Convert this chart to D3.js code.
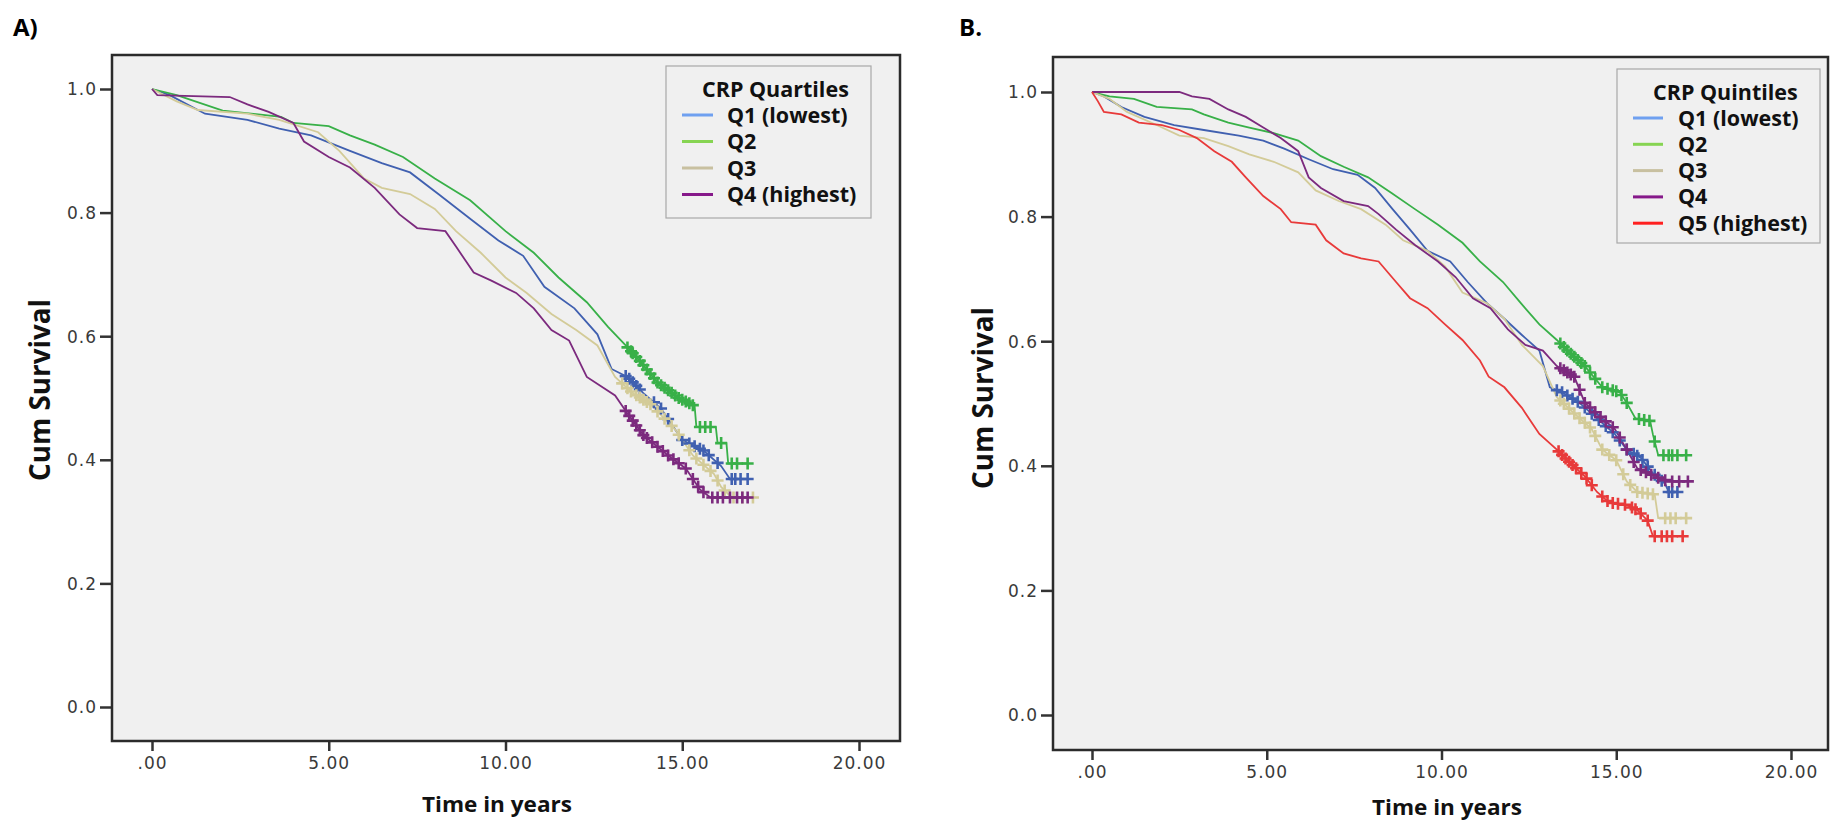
<!DOCTYPE html>
<html><head><meta charset="utf-8">
<script src="https://cdn.jsdelivr.net/npm/d3@7/dist/d3.min.js"></script>
<style>body{margin:0;background:#fff;} svg{display:block;}</style>
</head><body><svg id="chart" width="1830" height="821"></svg>
<script>
// ---------------- DATA ----------------
const xTickValues = [0, 5, 10, 15, 20];
const xTickLabels = [".00", "5.00", "10.00", "15.00", "20.00"];
const yTickValues = [0, 0.2, 0.4, 0.6, 0.8, 1.0];
const yTickLabels = ["0.0", "0.2", "0.4", "0.6", "0.8", "1.0"];

const quartileLabels = ["Q1 (lowest)", "Q2", "Q3", "Q4 (highest)"];
const quintileLabels = ["Q1 (lowest)", "Q2", "Q3", "Q4", "Q5 (highest)"];

// Panel A – CRP quartiles (time in years, cumulative survival)
const A_Q1_time = [0, 0.5, 1.5, 2.7, 3.6, 4.5, 5.6, 6.5, 7.3, 8.1, 9.0, 9.8, 10.5, 11.1, 11.95, 12.6, 13.0, 13.45, 13.9, 14.4, 15.0, 15.6, 16.1, 16.35, 16.85];
const A_Q1_surv = [1, .99, .96, .95, .936, .925, .90, .88, .865, .83, .79, .755, .73, .68, .645, .603, .547, .534, .508, .483, .432, .415, .39, .369, .369];
const A_Q1_cens = [13.4, 13.5, 13.6, 13.7, 13.8, 14.2, 14.4, 14.6, 15.0, 15.2, 15.35, 15.5, 15.6, 15.75, 16.0, 16.4, 16.5, 16.65, 16.85];

const A_Q2_time = [0, 0.7, 2.0, 3.65, 4.0, 5.0, 5.6, 6.3, 7.1, 8.0, 9.0, 10.0, 10.8, 11.5, 12.3, 12.9, 13.4, 13.8, 14.3, 14.9, 15.35, 15.4, 15.95, 16.0, 16.25, 16.3, 16.85];
const A_Q2_surv = [1, .99, .965, .955, .945, .94, .925, .91, .89, .855, .82, .77, .735, .695, .655, .615, .585, .56, .525, .50, .487, .453, .453, .427, .427, .394, .394];
const A_Q2_cens = [13.45, 13.55, 13.6, 13.7, 13.8, 13.9, 14.0, 14.1, 14.2, 14.3, 14.4, 14.5, 14.6, 14.7, 14.8, 14.9, 15.0, 15.1, 15.2, 15.3, 15.5, 15.65, 15.8, 16.1, 16.4, 16.55, 16.85];

const A_Q3_time = [0, 0.7, 1.3, 2.7, 3.6, 4.7, 5.3, 6.0, 6.5, 7.3, 8.0, 8.6, 9.3, 10.0, 10.6, 11.3, 12.0, 12.6, 13.1, 13.6, 14.1, 14.8, 15.3, 15.9, 16.1, 16.4, 17.0];
const A_Q3_surv = [1, .98, .966, .96, .95, .93, .90, .855, .84, .83, .806, .77, .735, .695, .67, .636, .61, .585, .534, .508, .49, .449, .407, .377, .356, .339, .339];
const A_Q3_cens = [13.3, 13.45, 13.55, 13.7, 13.8, 13.9, 14.0, 14.1, 14.3, 14.5, 14.7, 14.9, 15.2, 15.4, 15.6, 15.8, 16.0, 16.2, 16.45, 16.7, 17.0];

const A_Q4_time = [0, 0.15, 2.2, 2.7, 3.3, 4.0, 4.3, 5.0, 5.6, 6.3, 7.0, 7.5, 8.3, 8.6, 9.1, 9.6, 10.3, 10.8, 11.3, 11.8, 12.3, 13.1, 13.45, 13.9, 14.6, 15.1, 15.5, 15.8, 16.85];
const A_Q4_surv = [1, .99, .987, .975, .963, .945, .915, .89, .873, .84, .797, .775, .77, .745, .703, .69, .67, .645, .61, .593, .534, .504, .475, .44, .407, .386, .352, .339, .339];
const A_Q4_cens = [13.4, 13.5, 13.6, 13.7, 13.8, 13.9, 14.0, 14.15, 14.3, 14.45, 14.6, 14.75, 14.9, 15.1, 15.3, 15.45, 15.6, 15.85, 16.0, 16.15, 16.35, 16.55, 16.7, 16.85];

// Panel B – CRP quintiles
const B_Q1_time = [0, 0.34, 0.84, 1.5, 2.35, 3.2, 4.2, 4.9, 5.5, 6.2, 6.9, 7.6, 8.1, 8.6, 9.1, 9.6, 10.25, 10.75, 11.3, 11.8, 12.3, 12.8, 13.1, 13.45, 13.95, 14.45, 14.96, 15.3, 15.7, 16.05, 16.4, 16.5, 16.8];
const B_Q1_surv = [1, .993, .976, .96, .947, .939, .93, .922, .909, .892, .876, .867, .846, .812, .779, .745, .728, .695, .661, .636, .61, .585, .526, .518, .501, .476, .451, .426, .413, .388, .371, .358, .358];
const B_Q1_cens = [13.3, 13.45, 13.6, 13.75, 13.9, 14.1, 14.3, 14.5, 14.7, 14.9, 15.1, 15.3, 15.5, 15.6, 15.75, 15.9, 16.1, 16.3, 16.5, 16.6, 16.75];

const B_Q2_time = [0, 0.5, 1.2, 1.85, 2.86, 3.2, 3.9, 4.5, 5.2, 5.9, 6.55, 7.2, 7.9, 8.57, 9.24, 9.9, 10.6, 11.1, 11.76, 12.27, 12.8, 13.3, 13.6, 14.1, 14.6, 15.1, 15.3, 15.55, 15.97, 16.05, 16.2, 17.0];
const B_Q2_surv = [1, .993, .989, .976, .972, .964, .951, .943, .934, .922, .897, .88, .863, .838, .812, .787, .758, .728, .695, .661, .627, .602, .585, .56, .526, .518, .501, .476, .472, .45, .417, .417];
const B_Q2_cens = [13.4, 13.5, 13.6, 13.7, 13.8, 13.9, 14.0, 14.1, 14.25, 14.4, 14.6, 14.75, 14.9, 15.0, 15.15, 15.3, 15.65, 15.8, 15.95, 16.1, 16.35, 16.5, 16.6, 16.75, 17.0];

const B_Q3_time = [0, 0.5, 1.0, 1.85, 2.5, 3.2, 3.9, 4.5, 5.2, 5.9, 6.4, 7.06, 7.7, 8.4, 8.9, 9.6, 10.1, 10.6, 11.3, 11.8, 12.3, 12.9, 13.3, 13.8, 14.3, 14.6, 15.0, 15.3, 15.6, 16.1, 16.2, 17.0];
const B_Q3_surv = [1, .989, .968, .947, .93, .926, .913, .90, .888, .871, .842, .825, .812, .787, .762, .745, .72, .678, .661, .636, .594, .56, .51, .484, .459, .426, .409, .375, .358, .354, .316, .316];
const B_Q3_cens = [13.4, 13.5, 13.65, 13.8, 13.95, 14.1, 14.25, 14.4, 14.6, 14.8, 15.0, 15.2, 15.4, 15.6, 15.75, 15.9, 16.05, 16.4, 16.55, 16.7, 17.0];

const B_Q4_time = [0, 2.5, 2.86, 3.36, 3.9, 4.4, 4.9, 5.4, 5.9, 6.2, 6.55, 7.2, 7.9, 8.2, 8.7, 9.25, 9.9, 10.4, 10.9, 11.4, 11.9, 12.4, 12.9, 13.3, 13.8, 14.1, 14.6, 14.96, 15.3, 15.6, 16.1, 16.5, 17.05];
const B_Q4_surv = [1, 1, .993, .989, .972, .96, .943, .926, .905, .863, .846, .825, .817, .804, .779, .754, .728, .703, .669, .653, .619, .594, .585, .56, .543, .501, .476, .459, .426, .396, .383, .375, .375];
const B_Q4_cens = [13.4, 13.5, 13.6, 13.7, 13.8, 13.95, 14.1, 14.25, 14.4, 14.55, 14.7, 14.9, 15.1, 15.3, 15.5, 15.7, 15.85, 16.0, 16.2, 16.4, 16.6, 16.8, 17.05];

const B_Q5_time = [0, 0.17, 0.34, 0.84, 1.34, 2.0, 2.5, 3.0, 3.5, 4.0, 4.4, 4.9, 5.4, 5.7, 6.4, 6.7, 7.2, 7.7, 8.2, 8.7, 9.1, 9.6, 10.1, 10.6, 11.1, 11.35, 11.8, 12.3, 12.8, 13.3, 13.6, 14.1, 14.45, 14.8, 15.3, 15.6, 15.9, 16.05, 16.9];
const B_Q5_surv = [1, .985, .968, .964, .951, .947, .939, .926, .905, .888, .863, .833, .812, .791, .787, .762, .741, .733, .728, .695, .669, .653, .627, .602, .569, .543, .526, .493, .451, .426, .409, .383, .358, .341, .337, .329, .312, .287, .287];
const B_Q5_cens = [13.35, 13.45, 13.55, 13.65, 13.75, 13.85, 14.0, 14.15, 14.3, 14.6, 14.75, 14.9, 15.05, 15.25, 15.45, 15.55, 15.7, 15.9, 16.1, 16.3, 16.45, 16.6, 16.9];

// ---------------- STYLE ----------------
const lineColors = ["#4060b0", "#38b048", "#d3cb98", "#7c2a7e", "#e83a3a"];
const legendColors = ["#6fa0f0", "#86d452", "#c8c0a0", "#86198a", "#ff2020"];

const svg = d3.select("#chart");
const tickFont = "'DejaVu Sans', Verdana, sans-serif";
const boldFont = "'Open Sans', 'Noto Sans', sans-serif";

function buildSeries(times, survs, cens) {
  return { pts: times.map((t, i) => ({ t: t, s: survs[i] })), cens: cens };
}

function survAt(pts, t) {
  const i = d3.bisector(d => d.t).right(pts, t);
  if (i <= 0) return pts[0].s;
  if (i >= pts.length) return pts[pts.length - 1].s;
  const a = pts[i - 1], b = pts[i];
  return a.s + (b.s - a.s) * (t - a.t) / (b.t - a.t);
}

function drawPanel(cfg) {
  const g = svg.append("g");
  const f = cfg.frame;
  const x = d3.scaleLinear().domain([0, 20]).range(cfg.xRange);
  const y = d3.scaleLinear().domain([0, 1]).range(cfg.yRange);

  g.append("rect").attr("x", f.l).attr("y", f.t).attr("width", f.r - f.l).attr("height", f.b - f.t)
    .attr("fill", "#f0f0f0").attr("stroke", "none");

  // axes
  const xAxis = d3.axisBottom(x).tickValues(xTickValues).tickFormat((d, i) => xTickLabels[i]).tickSize(10).tickSizeOuter(0);
  const gx = g.append("g").attr("transform", `translate(0,${f.b})`).call(xAxis);
  gx.select(".domain").remove();
  gx.selectAll("line").attr("stroke", "#333").attr("stroke-width", 2.5);
  gx.selectAll("text").attr("font-family", tickFont).attr("font-size", 17).attr("fill", "#3a3a3a")
    .attr("letter-spacing", "1px").attr("y", 28).attr("dy", 0);

  const yAxis = d3.axisLeft(y).tickValues(yTickValues).tickFormat((d, i) => yTickLabels[i]).tickSize(12).tickSizeOuter(0);
  const gy = g.append("g").attr("transform", `translate(${f.l},0)`).call(yAxis);
  gy.select(".domain").remove();
  gy.selectAll("line").attr("stroke", "#333").attr("stroke-width", 2.5);
  gy.selectAll("text").attr("font-family", tickFont).attr("font-size", 17).attr("fill", "#3a3a3a")
    .attr("letter-spacing", "1px").attr("x", -15).attr("dy", "0.35em");

  // curves
  const line = d3.line().x(d => x(d.t)).y(d => y(d.s)).curve(d3.curveLinear);
  cfg.series.forEach((s, i) => {
    g.append("path").attr("d", line(s.pts)).attr("fill", "none")
      .attr("stroke", lineColors[i]).attr("stroke-width", 1.8).attr("stroke-linejoin", "miter");
  });
  cfg.series.forEach((s, i) => {
    g.append("g").selectAll("path").data(s.cens).join("path")
      .attr("d", t => {
        const px = x(t), py = y(survAt(s.pts, t));
        return `M${px - 6},${py}H${px + 6}M${px},${py - 6}V${py + 6}`;
      })
      .attr("fill", "none").attr("stroke", lineColors[i]).attr("stroke-width", 2.6);
  });

  // frame
  g.append("rect").attr("x", f.l).attr("y", f.t).attr("width", f.r - f.l).attr("height", f.b - f.t)
    .attr("fill", "none").attr("stroke", "#2b2b2b").attr("stroke-width", 2.5);

  // legend
  const L = cfg.legend;
  g.append("rect").attr("x", L.l).attr("y", L.t).attr("width", L.r - L.l).attr("height", L.b - L.t)
    .attr("fill", "#f0f0f0").attr("stroke", "#a8a8a8").attr("stroke-width", 1.2);
  g.append("text").attr("x", L.titleX).attr("y", L.titleY).attr("dy", "0.35em")
    .attr("font-family", boldFont).attr("font-weight", 700).attr("font-size", 21.5).attr("fill", "#111")
    .text(cfg.legendTitle);
  cfg.labels.forEach((lab, i) => {
    const yy = L.itemY0 + i * L.itemStep;
    g.append("line").attr("x1", L.lineX1).attr("x2", L.lineX2).attr("y1", yy).attr("y2", yy)
      .attr("stroke", legendColors[i]).attr("stroke-width", 3);
    g.append("text").attr("x", L.textX).attr("y", yy).attr("dy", "0.35em")
      .attr("font-family", boldFont).attr("font-weight", 700).attr("font-size", 21.5).attr("fill", "#111")
      .text(lab);
  });

  // axis titles
  g.append("text").attr("transform", `translate(${cfg.yTitleX},${cfg.yTitleY}) rotate(-90)`)
    .attr("text-anchor", "middle").attr("font-family", boldFont).attr("font-weight", 700)
    .attr("font-size", 29).attr("fill", "#111").attr("textLength", 182).attr("lengthAdjust", "spacingAndGlyphs")
    .text("Cum Survival");
  g.append("text").attr("x", cfg.xTitleX).attr("y", cfg.xTitleY).attr("text-anchor", "middle")
    .attr("font-family", boldFont).attr("font-weight", 700).attr("font-size", 22).attr("fill", "#111")
    .attr("textLength", 150).attr("lengthAdjust", "spacingAndGlyphs")
    .text("Time in years");

  // panel label
  g.append("text").attr("x", cfg.tagX).attr("y", 36).attr("font-family", boldFont).attr("font-weight", 700)
    .attr("font-size", 24).attr("fill", "#000").text(cfg.tag);
}

drawPanel({
  tag: "A)", tagX: 13,
  frame: { l: 112, r: 900, t: 55, b: 741 },
  xRange: [152, 859], yRange: [707, 89],
  series: [
    buildSeries(A_Q1_time, A_Q1_surv, A_Q1_cens),
    buildSeries(A_Q2_time, A_Q2_surv, A_Q2_cens),
    buildSeries(A_Q3_time, A_Q3_surv, A_Q3_cens),
    buildSeries(A_Q4_time, A_Q4_surv, A_Q4_cens)
  ],
  labels: quartileLabels, legendTitle: "CRP Quartiles",
  legend: { l: 666, r: 871, t: 66, b: 218, titleX: 702, titleY: 89, itemY0: 115, itemStep: 26.5, lineX1: 682, lineX2: 713, textX: 727 },
  yTitleX: 50, yTitleY: 390, xTitleX: 497, xTitleY: 812
});

drawPanel({
  tag: "B.", tagX: 959,
  frame: { l: 1053, r: 1828, t: 57, b: 750 },
  xRange: [1092, 1791], yRange: [715, 92],
  series: [
    buildSeries(B_Q1_time, B_Q1_surv, B_Q1_cens),
    buildSeries(B_Q2_time, B_Q2_surv, B_Q2_cens),
    buildSeries(B_Q3_time, B_Q3_surv, B_Q3_cens),
    buildSeries(B_Q4_time, B_Q4_surv, B_Q4_cens),
    buildSeries(B_Q5_time, B_Q5_surv, B_Q5_cens)
  ],
  labels: quintileLabels, legendTitle: "CRP Quintiles",
  legend: { l: 1617, r: 1820, t: 69, b: 243, titleX: 1653, titleY: 92, itemY0: 118, itemStep: 26.3, lineX1: 1633, lineX2: 1663, textX: 1678 },
  yTitleX: 993, yTitleY: 398, xTitleX: 1447, xTitleY: 815
});
</script></body></html>
